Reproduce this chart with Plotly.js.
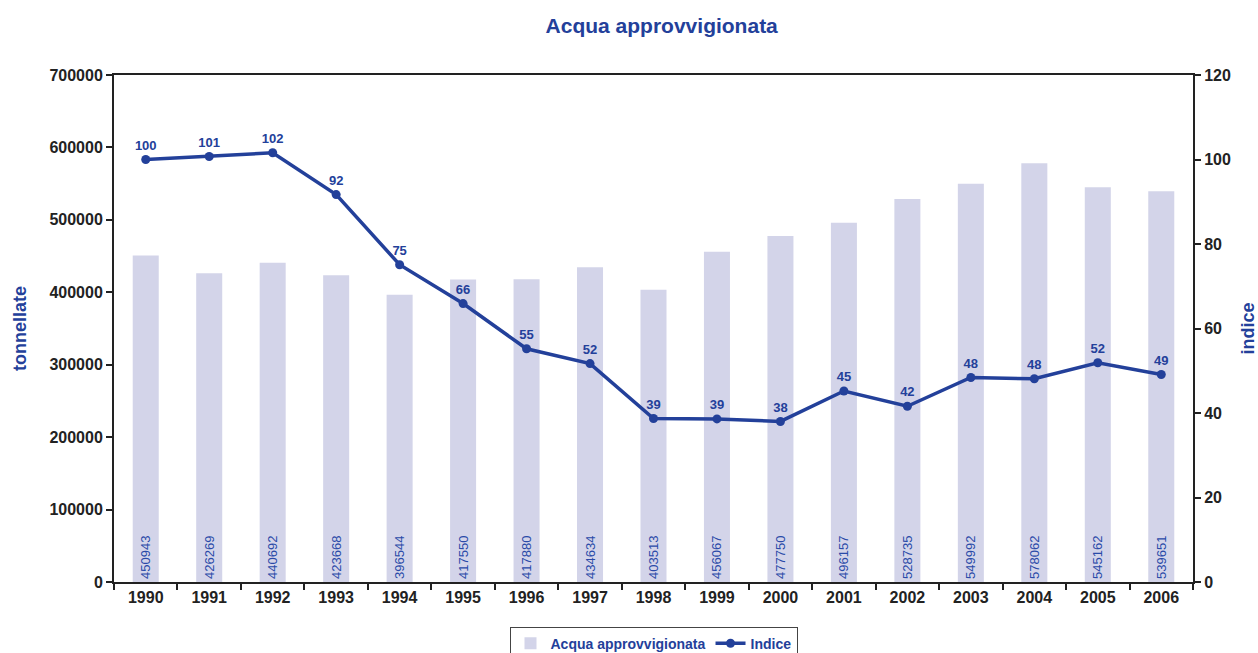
<!DOCTYPE html>
<html>
<head>
<meta charset="utf-8">
<script src="https://cdn.plot.ly/plotly-3.0.1.min.js"></script>
<style>html,body{margin:0;padding:0;background:#fff;overflow:hidden;}#chart{width:1258px;height:653px;}</style>
</head>
<body>
<div id="chart"></div>
<script>
var years = ['1990','1991','1992','1993','1994','1995','1996','1997','1998','1999','2000','2001','2002','2003','2004','2005','2006'];
var acqua = [450943,426269,440692,423668,396544,417550,417880,434634,403513,456067,477750,496157,528735,549992,578062,545162,539651];
var indice = [100,100.7,101.6,91.7,75.1,65.9,55.2,51.7,38.7,38.6,38.0,45.2,41.6,48.4,48.1,51.9,49.1];
var indiceLabels = ['100','101','102','92','75','66','55','52','39','39','38','45','42','48','48','52','49'];

var blue = '#23409a';
var font = 'Liberation Sans, Arial, sans-serif';

var traces = [
  {
    type: 'bar', name: 'Acqua approvvigionata', x: years, y: acqua,
    marker: {color: '#d3d4e9'},
    text: acqua.map(String), textposition: 'inside', insidetextanchor: 'start',
    textangle: -90, constraintext: 'none',
    insidetextfont: {family: font, size: 13, color: '#2a4aa8'},
    hoverinfo: 'x+y'
  },
  {
    type: 'scatter', mode: 'lines+markers+text', name: 'Indice', x: years, y: indice,
    yaxis: 'y2',
    line: {color: blue, width: 3.5},
    marker: {color: blue, size: 9},
    text: indiceLabels, textposition: 'top center',
    textfont: {family: font, size: 13, color: blue, weight: 'bold'},
    cliponaxis: false
  }
];

var layout = {
  width: 1258, height: 653,
  margin: {l: 114, r: 65, t: 75, b: 71, autoexpand: false},
  paper_bgcolor: '#fff', plot_bgcolor: '#fff',
  font: {family: font},
  title: {text: 'Acqua approvvigionata', font: {family: font, size: 21, color: blue, weight: 'bold'}, x: 0.526, xanchor: 'center', y: 0.96, yanchor: 'middle'},
  bargap: 0.59,
  showlegend: true,
  legend: {orientation: 'h', x: 0.5, xanchor: 'center', y: -0.088, yanchor: 'top',
    bordercolor: '#444', borderwidth: 1, bgcolor: '#fff',
    font: {family: font, size: 14, color: blue, weight: 'bold'}, traceorder: 'normal', itemwidth: 30},
  xaxis: {
    type: 'category', range: [-0.5, 16.5], tickson: 'boundaries', ticks: 'outside', ticklen: 6, tickcolor: '#222', tickwidth: 1.5,
    showline: true, linecolor: '#222', linewidth: 2, mirror: true, showgrid: false,
    tickfont: {family: font, size: 16, color: '#222', weight: 'bold'}
  },
  yaxis: {
    range: [0, 700000], dtick: 100000, tickformat: 'd', ticks: 'outside', ticklen: 6, tickcolor: '#222', tickwidth: 1.5,
    showline: true, linecolor: '#222', linewidth: 2, showgrid: false, zeroline: false,
    tickfont: {family: font, size: 16, color: '#222', weight: 'bold'},
    title: {text: 'tonnellate', font: {family: font, size: 18, color: blue, weight: 'bold'}, standoff: 18}
  },
  yaxis2: {
    overlaying: 'y', side: 'right', range: [0, 120], dtick: 20, ticks: 'outside', ticklen: 6, tickcolor: '#222', tickwidth: 1.5,
    showline: true, linecolor: '#222', linewidth: 2, showgrid: false, zeroline: false,
    tickfont: {family: font, size: 16, color: '#222', weight: 'bold'},
    title: {text: 'indice', font: {family: font, size: 18, color: blue, weight: 'bold'}, standoff: 12}
  }
};

Plotly.newPlot('chart', traces, layout, {displayModeBar: false, responsive: false});
</script>
</body>
</html>
